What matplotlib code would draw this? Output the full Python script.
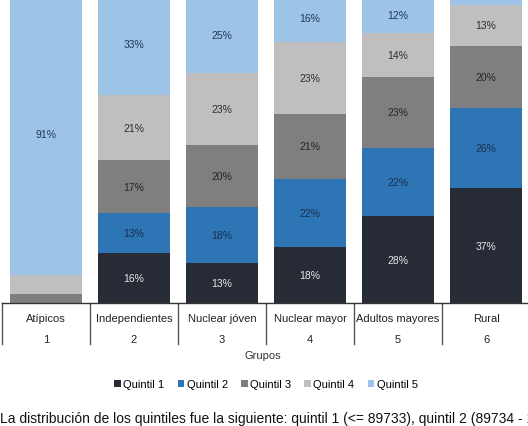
import matplotlib

matplotlib.use("Agg")
import matplotlib.pyplot as plt
import numpy as np

plt.rcParams["font.family"] = ["Liberation Sans", "DejaVu Sans"]

GROUPS = ["Atípicos", "Independientes", "Nuclear jóven", "Nuclear mayor", "Adultos mayores", "Rural"]
GROUP_NUMBERS = ["1", "2", "3", "4", "5", "6"]
SERIES = ["Quintil 1", "Quintil 2", "Quintil 3", "Quintil 4", "Quintil 5"]

quintil_1 = [0, 16, 13, 18, 28, 37]
quintil_2 = [0, 13, 18, 22, 22, 26]
quintil_3 = [3, 17, 20, 21, 23, 20]
quintil_4 = [6, 21, 23, 23, 14, 13]
quintil_5 = [91, 33, 25, 16, 12, 4]

COLORS = ["#262b35", "#2e75b6", "#7f7f7f", "#bfbfbf", "#9dc3e6"]
LABEL_COLORS = ["#e8e8e8", "#1b2f4d", "#262626", "#2e2e2e", "#1f3a5c"]

CAPTION = "La distribución de los quintiles fue la siguiente: quintil 1 (<= 89733), quintil 2 (89734 - 1"

values = [quintil_1, quintil_2, quintil_3, quintil_4, quintil_5]
x = np.arange(len(GROUPS))

fig = plt.figure(figsize=(5.28, 4.27), dpi=100)
ax = fig.add_axes([2 / 528, 123 / 427, 1.0, 304 / 427])

bottom = np.zeros(len(GROUPS))
for name, vals, color, tcolor in zip(SERIES, values, COLORS, LABEL_COLORS):
    vals = np.array(vals, dtype=float)
    ax.bar(x, vals, width=0.82, bottom=bottom, color=color, label=name)
    for xi, b, v in zip(x, bottom, vals):
        if v >= 10:
            ax.text(xi, b + v / 2, f"{int(v)}%", ha="center", va="center",
                    fontsize=7.5, color=tcolor)
    bottom += vals

ax.set_xlim(-0.5, len(GROUPS) - 0.5)
ax.set_ylim(0, 98)
ax.set_yticks([])
ax.set_xticks([])
for side in ["left", "right", "top"]:
    ax.spines[side].set_visible(False)
ax.spines["bottom"].set_color("#333333")
ax.spines["bottom"].set_linewidth(1.0)

# category table under the axis
trans = ax.get_xaxis_transform()
for i in range(len(GROUPS) + 1):
    ax.plot([i - 0.5, i - 0.5], [0, -41 / 304], transform=trans, color="#555555",
            linewidth=1.0, clip_on=False)
for xi, name, num in zip(x, GROUPS, GROUP_NUMBERS):
    ax.text(xi, -15 / 304, name, transform=trans, ha="center", va="center",
            fontsize=8, color="#222222")
    ax.text(xi, -36 / 304, num, transform=trans, ha="center", va="center",
            fontsize=8, color="#222222")

fig.text(263 / 528, 1 - 356 / 427, "Grupos", ha="center", va="center",
         fontsize=8, color="#333333")

fig.legend(loc="center", bbox_to_anchor=(266 / 528, 1 - 385 / 427), ncol=5,
           frameon=False, fontsize=8, handlelength=0.6, handleheight=0.6,
           handletextpad=0.2, columnspacing=1.2)

# the caption runs past the right edge in the original as well
fig.text(0, 1 - 419 / 427, CAPTION, ha="left", va="center", fontsize=10,
         color="#111111")

fig.savefig("out.png", dpi=100)
